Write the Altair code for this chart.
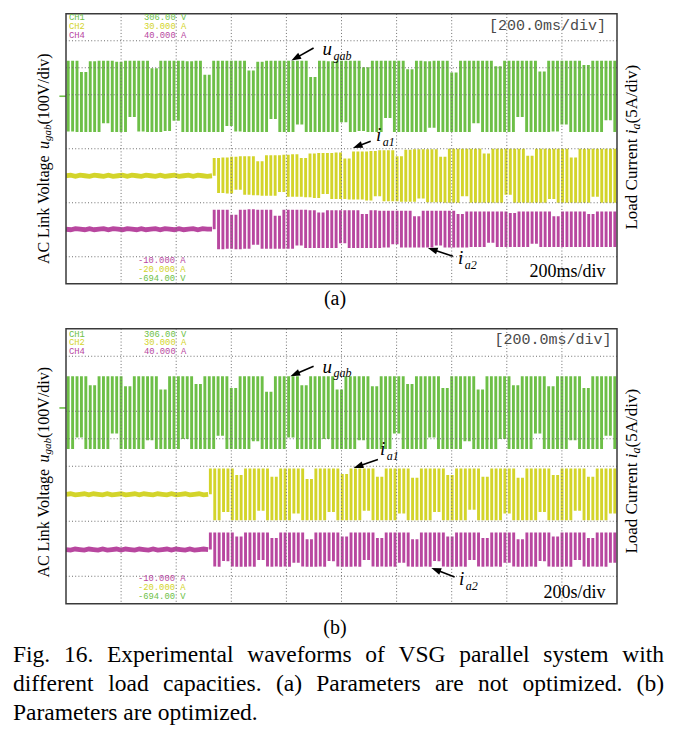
import math
import altair as alt
import pandas as pd

# ---------------- channel colours ----------------
GREEN = "#6dbf47"
YELLOW = "#d3d42a"
MAGENTA = "#b8479f"
FRAME = "#3a3a3a"
GRIDC = "#6f6f6f"

# ---------------- data (divisions; trace samples in 1/100 div about trace centre) ----
# Panel (a): parameters not optimized
A_GREEN_CENTER = 3.47
A_GREEN = [
    66, -65, 66, -66, 45, -66, 65, -66, 66, -50, 66, -66,
    64, -66, 66, -38, 66, -65, 66, -66, 52, -66, 66, -64,
    66, -45, 66, -66, 65, -66, 66, -66, 40, -66, 66, -66,
    66, -55, 66, -65, 66, -66, 48, -66, 64, -66, 66, -42,
    66, -66, 66, -66, 66, -52, 66, -66, 36, -66, 66, -66,
    65, -66, 66, -48, 66, -66, 66, -64, 54, -66, 66, -66,
    66, -40, 66, -66, 66, -66, 50, -66, 66, -66, 65, -58,
    66, -66, 66, -66, 44, -66, 66, -66, 66, -50, 66, -66,
    66, -66, 56, -66, 66, -66, 66, -38, 66, -66, 66, -66,
    46, -66, 66, -65, 66, -52, 66, -66, 66, -66, 58, -66,
    66, -66, 66, -44, 66, -66,
]
A_SWITCH = 2.65
A_YELLOW_CENTER = 2.00
A_YELLOW_IDLE = [0, 1, -1, 1, 0, -1, 1, 0, -1, 1, -1, 0, 1, -1, 1, 0, -1,
                 1, 0, -1, 1, -1, 0, 1, -1, 0, 1, -1, 1, 0, -1, 0]
A_YELLOW = [
    0,
    33, -32, 34, -33, 35, -26, 36, -35, 36, -36, 27, -37,
    38, -37, 38, -30, 39, -39, 40, -39, 33, -40, 41, -41,
    42, -34, 42, -43, 43, -43, 32, -44, 45, -44, 45, -46,
    46, -38, 47, -47, 47, -47, 36, -48, 48, -48, 49, -42,
    49, -49, 49, -49, 35, -50, 50, -50, 50, -38, 50, -50,
    50, -50, 41, -50, 50, -50, 50, -35, 50, -50, 50, -50,
    37, -50, 50, -50, 50, -43, 50, -50, 50, -50, 34, -50,
    50, -50, 50, -39, 50, -50, 50, -50, 50,
]
A_MAGENTA_CENTER = 1.01
A_MAGENTA_IDLE = [0, -1, 1, 0, -1, 1, -1, 0, 1, -1, 1, 0, -1, 1, 0, -1, 1,
                  -1, 0, 1, -1, 1, 0, -1, 1, -1, 0, 1, -1, 1, 0, 0]
A_MAGENTA = [
    0,
    36, -37, 36, -36, 27, -37, 36, -36, 37, -29, 36, -36,
    36, -36, 25, -36, 36, -36, 36, -30, 36, -35, 35, -35,
    31, -35, 35, -35, 35, -26, 35, -35, 35, -35, 28, -35,
    35, -35, 34, -34, 34, -28, 34, -34, 34, -34, 24, -34,
    34, -34, 34, -30, 34, -34, 34, -34, 28, -34, 33, -33,
    33, -33, 33, -25, 33, -33, 33, -33, 30, -33, 33, -33,
    33, -27, 33, -33, 33, -33, 24, -33, 33, -33, 33, -33,
    33, -33, 28, -33, 33, -33, 33, -33, 33,
]

# Panel (b): parameters optimized
B_GREEN_CENTER = 3.475
B_GREEN = [
    66, -66, 66, -45, 66, -66, 50, -66, 66, -66, 66, -38,
    66, -66, 48, -66, 66, -66, 66, -50, 66, -66, 42, -66,
    66, -66, 66, -48, 66, -66, 52, -66, 66, -66, 66, -42,
    66, -66, 45, -66, 66, -66, 66, -52, 66, -66, 38, -66,
    66, -66, 66, -45, 66, -66, 50, -66, 66, -66, 66, -48,
    66, -66, 42, -66, 66, -66, 66, -50, 66, -66, 48, -66,
    66, -66, 66, -38, 66, -66, 52, -66, 66, -66, 66, -45,
    66, -66, 45, -66, 66, -66, 66, -52, 66, -66, 42, -66,
    66, -66, 66, -48, 66, -66, 50, -66, 66, -66, 66, -38,
    66, -66, 48, -66, 66, -66, 66, -50, 66, -66, 45, -66,
    66, -66, 66, -42, 66, -66,
]
B_SWITCH = 2.58
B_YELLOW_CENTER = 1.99
B_YELLOW_IDLE = [0, 1, -1, 0, 1, -1, 1, 0, -1, 1, -1, 0, 1, -1, 0, 1, -1,
                 1, 0, -1, 1, 0, -1, 1, -1, 0, 1, -1, 0, 1, -1, 0]
B_YELLOW = [
    0,
    47, -47, 47, -32, 47, -47, 35, -47, 47, -47, 47, -30,
    47, -47, 32, -47, 47, -47, 47, -35, 47, -47, 28, -47,
    47, -47, 47, -32, 47, -47, 37, -47, 47, -47, 47, -30,
    47, -47, 32, -47, 47, -47, 47, -35, 47, -47, 30, -47,
    47, -47, 47, -32, 47, -47, 35, -47, 47, -47, 47, -28,
    47, -47, 32, -47, 47, -47, 47, -35, 47, -47, 30, -47,
    47, -47, 47, -32, 47, -47, 35, -47, 47, -47, 47, -30,
    47, -47, 32, -47, 47, -47, 47, -35, 47,
]
B_MAGENTA_CENTER = 0.985
B_MAGENTA_IDLE = [0, -1, 1, 0, -1, 1, 0, -1, 1, -1, 0, 1, -1, 1, 0, -1, 1,
                  0, -1, 1, -1, 0, 1, -1, 1, 0, -1, 1, -1, 0, 1, 0]
B_MAGENTA = [
    0,
    31, -31, 31, -21, 31, -31, 24, -31, 31, -31, 31, -19,
    31, -31, 21, -31, 31, -31, 31, -24, 31, -31, 19, -31,
    31, -31, 31, -21, 31, -31, 24, -31, 31, -31, 31, -19,
    31, -31, 21, -31, 31, -31, 31, -24, 31, -31, 19, -31,
    31, -31, 31, -21, 31, -31, 24, -31, 31, -31, 31, -19,
    31, -31, 21, -31, 31, -31, 31, -24, 31, -31, 19, -31,
    31, -31, 31, -21, 31, -31, 24, -31, 31, -31, 31, -19,
    31, -31, 21, -31, 31, -31, 31, -24, 31,
]

GRID_X = [1, 2, 3, 4, 5, 6, 7, 8, 9]
A_GRID_Y = [0.5, 1.5, 2.5, 3.5, 4.0, 4.5]
B_GRID_Y = [0.5, 1.5, 2.5, 3.0, 3.5, 4.5]

# ---------------- layout geometry (page pixels) ----------------
LEFT = 66.0
PLOT_W = 551
A_TOP, A_H = 12.5, 270
B_TOP, B_H = 327.5, 275
DX = PLOT_W / 10.0


def px(xp):
    return (xp - LEFT) / DX


def ay(yp):
    return (A_TOP + A_H - yp) / (A_H / 5.0)


def by(yp):
    return (B_TOP + B_H - yp) / (B_H / 5.0)


X = alt.X("x:Q", scale=alt.Scale(domain=[0, 10], nice=False, zero=False), axis=None)
Y = alt.Y("y:Q", scale=alt.Scale(domain=[0, 5], nice=False, zero=False), axis=None)

SERIF = "Liberation Serif, Times New Roman, serif"
MONO = "Liberation Mono, Courier New, monospace"

# Times metrics (1/1000 em) for laying out serif text pieces
TIMES = {" ": 250, "(": 333, ")": 333, ".": 250, "/": 278, "0": 500, "1": 500,
         "2": 500, "5": 500, "6": 500, "A": 722, "C": 667, "E": 611, "F": 556,
         "G": 722, "L": 611, "P": 556, "S": 556, "V": 722, "a": 444, "b": 500,
         "c": 444, "d": 500, "e": 444, "f": 333, "g": 500, "h": 500, "i": 278,
         "k": 500, "l": 278, "m": 778, "n": 500, "o": 500, "p": 500, "r": 333,
         "s": 389, "t": 278, "u": 500, "v": 500, "w": 722, "x": 500, "y": 500,
         "z": 444}
ITAL = {"a": 500, "b": 500, "g": 500, "i": 278, "u": 500, "1": 500, "2": 500}


def tw(s, size, table=TIMES):
    return sum(table.get(c, 500) for c in s) * size / 1000.0


def series(values, center, start, end):
    n = len(values)
    return pd.DataFrame({
        "x": [start + (end - start) * i / (n - 1) for i in range(n)],
        "y": [center + v / 100.0 for v in values],
    })


def strokes(values, center, start, end):
    """Each displayed stroke joins two successive samples of the trace."""
    s = series(values, center, start, end)
    return pd.DataFrame({
        "x": ((s["x"].shift(-1) + s["x"]) / 2.0)[:-1],
        "y": s["y"][:-1].values,
        "y2": s["y"].shift(-1)[:-1].values,
    })


def text_layer(rows, **kw):
    df = pd.DataFrame(rows, columns=["x", "y", "t"])
    return alt.Chart(df).mark_text(**kw).encode(x=X, y=Y, text="t:N")


def rotated_title(pieces, x_center, y_center, toy):
    total = 0.0
    for t, s, it, sub in pieces:
        total += tw(t, s, ITAL if it else TIMES)
    ystart = y_center + total / 2.0
    layers = []
    for t, s, it, sub in pieces:
        xx = x_center + (4 if sub else 0)
        kw = dict(font=SERIF, fontSize=s, angle=270, align="left",
                  baseline="middle", color="black")
        if it:
            kw["fontStyle"] = "italic"
        layers.append(text_layer([(px(xx), toy(ystart), t)], **kw))
        ystart -= tw(t, s, ITAL if it else TIMES)
    return layers


def arrows(spec, toy):
    shafts, heads = [], []
    size = 95
    r = math.sqrt(size) / 2.0
    for (tx, ty, hx, hy) in spec:
        dx, dy = hx - tx, hy - ty
        L = math.hypot(dx, dy)
        ux, uy = dx / L, dy / L
        cx, cy = hx - ux * r, hy - uy * r
        shafts.append({"x": px(tx), "y": toy(ty), "x2": px(cx), "y2": toy(cy)})
        heads.append({"x": px(cx), "y": toy(cy),
                      "ang": math.degrees(math.atan2(ux, -uy)) % 360})
    s = alt.Chart(pd.DataFrame(shafts)).mark_rule(color="black", strokeWidth=1.6).encode(
        x=X, y=Y, x2="x2:Q", y2="y2:Q")
    h = alt.Chart(pd.DataFrame(heads)).mark_point(
        shape="M0,-1L0.7,1L-0.7,1Z", filled=True, size=size, color="black",
        opacity=1, strokeWidth=0).encode(x=X, y=Y, angle=alt.Angle("ang:Q", scale=None))
    return [s, h]


def label(xl, yb, main, sub, toy):
    return [
        text_layer([(px(xl), toy(yb), main)], font=SERIF, fontStyle="italic",
                   fontSize=19, align="left", baseline="alphabetic", color="black"),
        text_layer([(px(xl + tw(main, 19, ITAL) + 1.5), toy(yb + 4.5), sub)],
                   font=SERIF, fontStyle="italic", fontSize=12,
                   align="left", baseline="alphabetic", color="black"),
    ]


def scope(height, toy, gc, green, tick_y, yc, yidle, yact, mc, midle, mact, sw, grid_y,
          ch_rows, tb_y, tb_right, bl_rows, div_text, div_y, panel_lab, lab_y,
          arrow_spec, labels, left_c, right_c, extra=None):
    layers = []
    bar = dict(strokeWidth=2.9, strokeCap="butt", clip=True)
    layers.append(alt.Chart(strokes(green, gc, 0, 10)).mark_rule(color=GREEN, **bar)
                  .encode(x=X, y=Y, y2="y2:Q"))
    layers.append(alt.Chart(series(yidle, yc, 0, sw)).mark_line(color=YELLOW, strokeWidth=4.8, clip=True)
                  .encode(x=X, y=Y))
    layers.append(alt.Chart(strokes(yact, yc, sw, 10)).mark_rule(color=YELLOW, **bar)
                  .encode(x=X, y=Y, y2="y2:Q"))
    layers.append(alt.Chart(series(midle, mc, 0, sw)).mark_line(color=MAGENTA, strokeWidth=4.8, clip=True)
                  .encode(x=X, y=Y))
    layers.append(alt.Chart(strokes(mact, mc, sw, 10)).mark_rule(color=MAGENTA, **bar)
                  .encode(x=X, y=Y, y2="y2:Q"))
    # grid (drawn over traces like the scope)
    layers.append(alt.Chart(pd.DataFrame({"x": GRID_X})).mark_rule(
        color=GRIDC, strokeWidth=1, strokeDash=[1, 2.2]).encode(x=X))
    layers.append(alt.Chart(pd.DataFrame({"y": grid_y})).mark_rule(
        color=GRIDC, strokeWidth=1, strokeDash=[1, 2.2]).encode(y=Y))
    # ground marker of CH1
    layers.append(alt.Chart(pd.DataFrame({"x": [-0.12], "x2": [0.0], "y": [tick_y]}))
                  .mark_rule(color=GREEN, strokeWidth=1.6).encode(x=X, x2="x2:Q", y=Y))
    # frame
    layers.append(alt.Chart(pd.DataFrame({"x": [0], "x2": [10], "y": [0], "y2": [5]}))
                  .mark_rect(fill="white", fillOpacity=0, stroke=FRAME, strokeWidth=1.5)
                  .encode(x=X, x2="x2:Q", y=Y, y2="y2:Q"))
    mono = dict(font=MONO, align="left", baseline="middle", fontSize=8.8)
    cols = [GREEN, YELLOW, MAGENTA]
    for (name, val, yy), c in zip(ch_rows, cols):
        layers.append(text_layer([(px(69), toy(yy), name), (px(144), toy(yy), val)],
                                 color=c, **mono))
    for (t, yy, c) in bl_rows:
        layers.append(text_layer([(px(138), toy(yy), t)], color=c, **mono))
    layers.append(text_layer([(px(tb_right), toy(tb_y), "[200.0ms/div]")],
                             font=MONO, fontSize=15, color="#4a4a4a",
                             align="right", baseline="middle"))
    layers.append(text_layer([(px(605.5), toy(div_y), div_text)],
                             font=SERIF, fontSize=18, color="black",
                             align="right", baseline="middle"))
    layers.append(text_layer([(px(335), toy(lab_y), panel_lab)],
                             font=SERIF, fontSize=20, color="black",
                             align="center", baseline="middle"))
    layers += arrows(arrow_spec, toy)
    for (xl, yb, m, s) in labels:
        layers += label(xl, yb, m, s, toy)
    layers += rotated_title([("AC Link Voltage ", 16, False, False), ("u", 16, True, False),
                             ("gab", 11, True, True), ("(100V/div)", 16, False, False)],
                            44, left_c, toy)
    layers += rotated_title([("Load Current ", 17, False, False), ("i", 17, True, False),
                             ("a", 12, True, True), ("(5A/div)", 17, False, False)],
                            631.5, right_c, toy)
    if extra:
        layers += extra
    return alt.layer(*layers).properties(width=PLOT_W, height=height)


panel_a = scope(
    A_H, ay, A_GREEN_CENTER, A_GREEN, ay(95), A_YELLOW_CENTER, A_YELLOW_IDLE, A_YELLOW,
    A_MAGENTA_CENTER, A_MAGENTA_IDLE, A_MAGENTA, A_SWITCH, A_GRID_Y,
    [("CH1", "306.00 V", 15.5), ("CH2", "30.000 A", 24.5), ("CH4", "40.000 A", 33.5)],
    23.3, 606,
    [("-10.000 A", 258.8, MAGENTA), ("-20.000 A", 267.8, YELLOW), ("-694.00 V", 276.8, GREEN)],
    "200ms/div", 270.7, "(a)", 298,
    [(313.6, 46.7, 291.4, 59.3), (370.7, 140.0, 352.9, 146.7), (452.9, 255.0, 427.9, 246.7)],
    [(322.5, 54, "u", "gab"), (376, 140, "i", "a1"), (458, 263, "i", "a2")],
    157.5, 146,
)

# caption (placed with panel b)
CAP_L, CAP_R, CAP_FS = 13.0, 664.0, 23.5
LINE1 = ["Fig.", "16.", "Experimental", "waveforms", "of", "VSG", "parallel", "system", "with"]
LINE2 = ["different", "load", "capacities.", "(a)", "Parameters", "are", "not", "optimized.", "(b)"]
LINE3 = "Parameters are optimized."


def justified(words, yline):
    widths = [tw(w, CAP_FS) for w in words]
    gap = (CAP_R - CAP_L - sum(widths)) / (len(words) - 1)
    rows, xcur = [], CAP_L
    for w, wd in zip(words, widths):
        rows.append((px(xcur), by(yline), w))
        xcur += wd + gap
    return rows


cap_rows = justified(LINE1, 654) + justified(LINE2, 683) + [(px(CAP_L), by(712), LINE3)]
caption = [text_layer(cap_rows, font=SERIF, fontSize=CAP_FS, color="black",
                      align="left", baseline="middle")]

panel_b = scope(
    B_H, by, B_GREEN_CENTER, B_GREEN, by(406.7), B_YELLOW_CENTER, B_YELLOW_IDLE, B_YELLOW,
    B_MAGENTA_CENTER, B_MAGENTA_IDLE, B_MAGENTA, B_SWITCH, B_GRID_Y,
    [("CH1", "306.00 V", 332.3), ("CH2", "30.000 A", 341.0), ("CH4", "40.000 A", 349.7)],
    338, 611.5,
    [("-10.000 A", 576.5, MAGENTA), ("-20.000 A", 585.5, YELLOW), ("-694.00 V", 594.5, GREEN)],
    "200s/div", 591.7, "(b)", 627,
    [(313.6, 365.0, 290.4, 375.0), (377.9, 458.3, 353.6, 466.7), (454.6, 575.7, 431.4, 566.7)],
    [(322.5, 371.5, "u", "gab"), (380, 454, "i", "a1"), (459, 584, "i", "a2")],
    471, 470, extra=caption,
)

chart = alt.vconcat(panel_a, panel_b, spacing=45, bounds="flush").properties(
    padding={"left": 5, "top": 3.75, "right": 2, "bottom": 2}
).configure_view(strokeWidth=0)

chart.save("out.html", embed_options={"renderer": "svg", "actions": False})
